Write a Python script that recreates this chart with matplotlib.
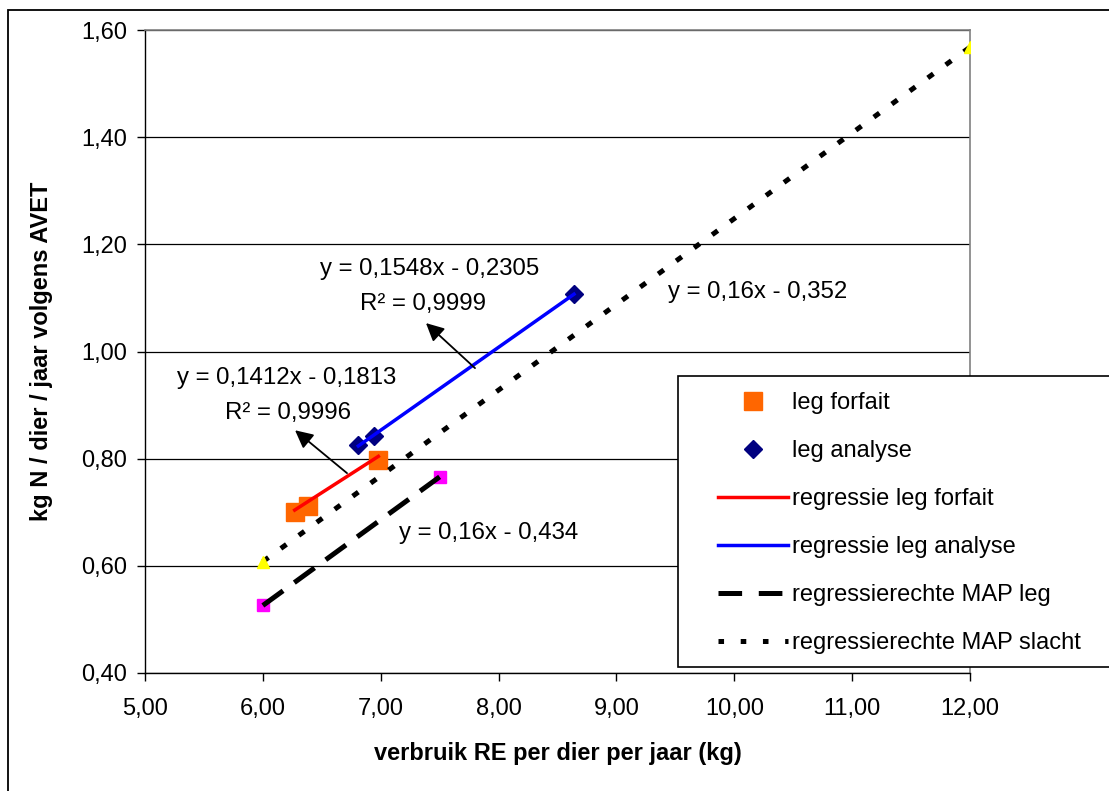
import numpy as np
import matplotlib
matplotlib.use("Agg")
import matplotlib.pyplot as plt
from matplotlib.lines import Line2D
from matplotlib.patches import Rectangle
from matplotlib.ticker import FuncFormatter, MultipleLocator

# ---- data ----
forfait_x = [6.27, 6.38, 6.98]
forfait_y = [0.700, 0.712, 0.797]
analyse_x = [6.81, 6.94, 8.64]
analyse_y = [0.826, 0.843, 1.107]
reg_forfait = (0.1412, -0.1813)
reg_analyse = (0.1548, -0.2305)
map_leg_x = [6.0, 7.5]
map_leg = (0.16, -0.434)
map_slacht_x = [6.0, 12.0]
map_slacht = (0.16, -0.352)

legend_labels = ["leg forfait", "leg analyse", "regressie leg forfait",
                 "regressie leg analyse", "regressierechte MAP leg",
                 "regressierechte MAP slacht"]
eq_analyse = "y = 0,1548x - 0,2305"
r2_analyse = "R² = 0,9999"
eq_forfait = "y = 0,1412x - 0,1813"
r2_forfait = "R² = 0,9996"
eq_slacht = "y = 0,16x - 0,352"
eq_leg = "y = 0,16x - 0,434"
xlabel = "verbruik RE per dier per jaar (kg)"
ylabel = "kg N / dier / jaar volgens AVET"

plt.rcParams['font.family'] = ['Liberation Sans', 'DejaVu Sans']
plt.rcParams['lines.scale_dashes'] = False

W, H = 1109, 791
fig = plt.figure(figsize=(W / 100, H / 100), dpi=100)
ax = fig.add_axes([145 / W, 1 - 673 / H, (970 - 145) / W, (673 - 30) / H])

ax.set_xlim(5, 12)
ax.set_ylim(0.4, 1.6)
ax.xaxis.set_major_locator(MultipleLocator(1))
ax.yaxis.set_major_locator(MultipleLocator(0.2))
fmt = FuncFormatter(lambda v, p: f"{v:.2f}".replace('.', ','))
ax.xaxis.set_major_formatter(fmt)
ax.yaxis.set_major_formatter(fmt)
ax.tick_params(axis='both', labelsize=17, direction='out', length=6, width=1, color='black')
ax.tick_params(axis='y', pad=7)
ax.tick_params(axis='x', pad=12)
ax.yaxis.grid(True, color='black', lw=0.9)
ax.set_axisbelow(True)
for s in ['top', 'right']:
    ax.spines[s].set_color('#808080')
    ax.spines[s].set_linewidth(1.2)
for s in ['left', 'bottom']:
    ax.spines[s].set_color('black')
    ax.spines[s].set_linewidth(1.0)

ax.set_xlabel(xlabel, fontsize=17, fontweight='bold', labelpad=16)
ax.set_ylabel(ylabel, fontsize=17, fontweight='bold', labelpad=20)

def line_vals(coef, xs):
    xs = np.array([min(xs), max(xs)])
    return xs, coef[0] * xs + coef[1]

# markers for MAP lines
ax.plot(map_leg_x, np.array(map_leg_x) * map_leg[0] + map_leg[1], 's',
        color='#FF00FF', ms=8.5, zorder=3)
ax.plot(map_slacht_x, np.array(map_slacht_x) * map_slacht[0] + map_slacht[1], '^',
        color='#FFFF00', ms=9, zorder=5)

dash_style = (0, (18, 10))
dot_style = (0, (5, 11))
x1, y1 = line_vals(map_leg, map_leg_x)
ax.plot(x1, y1, color='black', lw=3.6, linestyle=dash_style, dash_capstyle='butt', zorder=4)
x2, y2 = line_vals(map_slacht, map_slacht_x)
ax.plot(x2, y2, color='black', lw=3.6, linestyle=dot_style, dash_capstyle='butt', zorder=4)

ax.plot(forfait_x, forfait_y, 's', color='#FF6600', ms=13, zorder=3)
ax.plot(analyse_x, analyse_y, 'D', color='#000080', ms=9.5, zorder=3)
x3, y3 = line_vals(reg_forfait, forfait_x)
ax.plot(x3, y3, color='#FF0000', lw=2.5, zorder=4)
x4, y4 = line_vals(reg_analyse, analyse_x)
ax.plot(x4, y4, color='#0000FF', lw=2.5, zorder=4)

# annotations
tk = dict(fontsize=17.3, color='black', zorder=6)
ax.text(7.418, 1.154, eq_analyse, ha='center', va='center', **tk)
ax.text(7.36, 1.089, r2_analyse, ha='center', va='center', **tk)
ax.text(6.205, 0.951, eq_forfait, ha='center', va='center', **tk)
ax.text(6.213, 0.885, r2_forfait, ha='center', va='center', **tk)
ax.text(9.437, 1.111, eq_slacht, ha='left', va='center', **tk)
ax.text(7.155, 0.661, eq_leg, ha='left', va='center', **tk)

ap = dict(arrowstyle='-|>', color='black', lw=1.3, mutation_scale=27, shrinkA=0, shrinkB=0)
ax.annotate('', xy=(7.384, 1.053), xytext=(7.80, 0.969), arrowprops=ap, zorder=6)
ax.annotate('', xy=(6.273, 0.853), xytext=(6.714, 0.773), arrowprops=ap, zorder=6)

# legend box
rect = Rectangle((678 / W, 1 - 667 / H), 0.5, (667 - 376) / H, transform=fig.transFigure,
                 facecolor='white', edgecolor='black', lw=1.2, zorder=5)
fig.add_artist(rect)

handles = [
    Line2D([], [], marker='s', color='#FF6600', ls='none', ms=13),
    Line2D([], [], marker='D', color='#000080', ls='none', ms=9.5),
    Line2D([], [], color='#FF0000', lw=2.5),
    Line2D([], [], color='#0000FF', lw=2.5),
    Line2D([], [], color='black', lw=3.6, linestyle=(0, (17, 12)), dash_capstyle='butt'),
    Line2D([], [], color='black', lw=3.6, linestyle=(0, (4, 12)), dash_capstyle='butt'),
]
leg = fig.legend(handles, legend_labels, loc='upper left',
                 bbox_to_anchor=(718 / W, 1 - 392 / H), frameon=False,
                 fontsize=17, handlelength=2.96, handletextpad=0.17,
                 labelspacing=1.1, borderpad=0, borderaxespad=0, numpoints=1)
leg.set_zorder(7)

# outer chart border
border = Rectangle((8 / W, -0.1), 2, (H - 10) / H + 0.1, transform=fig.transFigure,
                   facecolor='none', edgecolor='black', lw=1.3, zorder=8)
fig.add_artist(border)

fig.savefig('out.png', dpi=100)
